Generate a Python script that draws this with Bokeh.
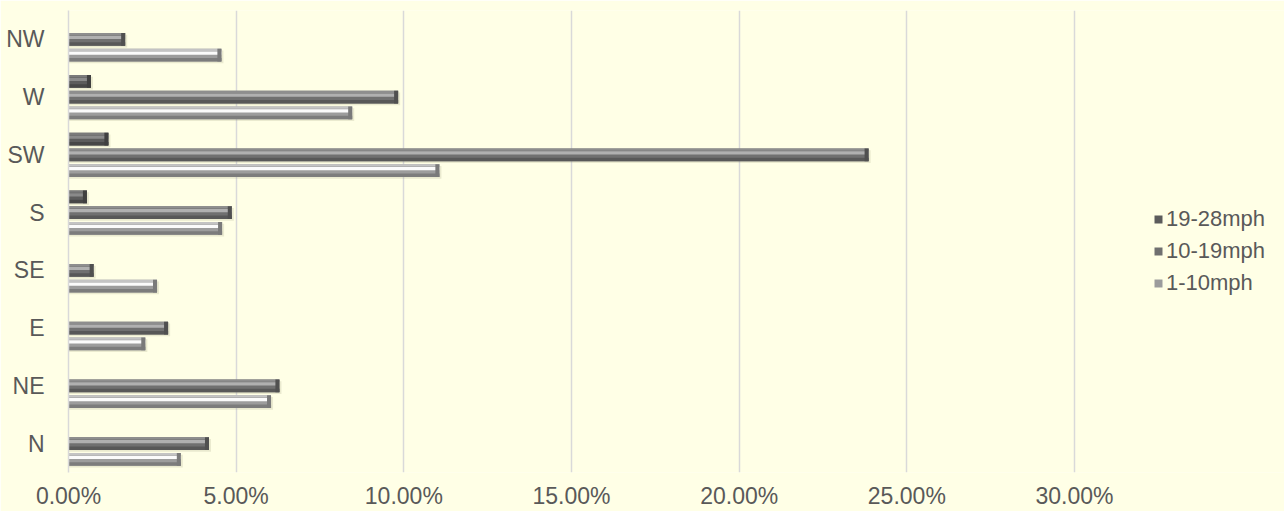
from bokeh.plotting import figure
from bokeh.models import ColumnDataSource, FactorRange, FixedTicker, NumeralTickFormatter, Legend, LegendItem
from bokeh.transform import dodge
from bokeh.embed import file_html
from bokeh.resources import INLINE

directions = ["N", "NE", "E", "SE", "S", "SW", "W", "NW"]
speed_1_10 = [0.0335, 0.0604, 0.0229, 0.0264, 0.0458, 0.1106, 0.0846, 0.0456]
speed_10_19 = [0.0419, 0.0629, 0.0297, 0.0075, 0.0487, 0.2386, 0.0983, 0.0169]
speed_19_28 = [0.0, 0.0, 0.0, 0.0, 0.0055, 0.0119, 0.0067, 0.0]
series_names = ["1-10mph", "10-19mph", "19-28mph"]
x_ticks = [0.0, 0.05, 0.10, 0.15, 0.20, 0.25, 0.30]

BG = "#FFFFE6"
TXT = "#595959"
FONT = "Liberation Sans"

# frame spans to the right edge so the legend can sit inside it; 30% lands at ~x=1074
X_END = 0.30 * 1216 / 1006

p = figure(width=1284, height=511, y_range=FactorRange(*directions), x_range=(0, X_END),
           output_backend="svg", toolbar_location=None,
           min_border_left=68, min_border_right=0, min_border_top=10, min_border_bottom=0)
p.background_fill_color = BG
p.border_fill_color = BG
p.outline_line_color = None

edge_w = 0.0012
data = dict(dir=directions)
for key, vals in (("a", speed_1_10), ("b", speed_10_19), ("c", speed_19_28)):
    data[key] = vals
    data[key + "_edge"] = [max(v - edge_w, 0) if v > 0 else 0 for v in vals]
    data[key + "_sh"] = [v + 0.0006 if v > 0 else 0 for v in vals]
src = ColumnDataSource(data)

step = 0.273
h = 0.22
styles = {
    "a": dict(off=-step, body="#9c9c9c", hi="#fbfbfb", top="#c4c4c4", bot="#7c7c7c", end="#7a7a7a"),
    "b": dict(off=0.0, body="#707070", hi="#b0b0b0", top="#8e8e8e", bot="#585858", end="#505050"),
    "c": dict(off=step, body="#5c5c5c", hi="#8a8a8a", top="#7a7a7a", bot="#474747", end="#404040"),
}

renderers = {}
for key, st in styles.items():
    o = st["off"]
    rng = p.y_range
    p.hbar(y=dodge("dir", o - 0.03, range=rng), left=0, right=key + "_sh", height=h,
           source=src, fill_color="#8c8c6c", fill_alpha=0.18, line_color=None)
    body = p.hbar(y=dodge("dir", o, range=rng), left=0, right=key, height=h,
                  source=src, fill_color=st["body"], line_color=None)
    renderers[key] = body
    p.hbar(y=dodge("dir", o - h * 0.36, range=rng), left=0, right=key, height=h * 0.28,
           source=src, fill_color=st["bot"], line_color=None)
    p.hbar(y=dodge("dir", o + h * 0.16, range=rng), left=0, right=key, height=h * 0.26,
           source=src, fill_color=st["hi"], line_color=None)
    p.hbar(y=dodge("dir", o + h * 0.41, range=rng), left=0, right=key, height=h * 0.18,
           source=src, fill_color=st["top"], line_color=None)
    p.hbar(y=dodge("dir", o, range=rng), left=key + "_edge", right=key, height=h,
           source=src, fill_color=st["end"], line_color=None)

# axes
p.xaxis.ticker = FixedTicker(ticks=x_ticks)
p.xaxis.formatter = NumeralTickFormatter(format="0.00%")
p.xaxis.axis_line_color = None
p.xaxis.major_tick_line_color = None
p.xaxis.minor_tick_line_color = None
p.xaxis.major_tick_out = 0
p.xaxis.major_tick_in = 0
p.xaxis.minor_tick_out = 0
p.xaxis.minor_tick_in = 0
p.xaxis.major_label_standoff = 10
p.yaxis.axis_line_color = "#d9d9d9"
p.yaxis.axis_line_width = 1.5
p.yaxis.major_tick_line_color = None
p.yaxis.minor_tick_line_color = None
p.yaxis.major_label_standoff = 18
for ax in (p.xaxis[0], p.yaxis[0]):
    ax.major_label_text_font = FONT
    ax.major_label_text_font_size = "23px"
    ax.major_label_text_color = TXT

p.ygrid.grid_line_color = None
p.xgrid.ticker = FixedTicker(ticks=x_ticks)
p.xgrid.grid_line_color = "#d9d9d9"
p.xgrid.grid_line_width = 1.5

legend = Legend(items=[
    LegendItem(label=series_names[2], renderers=[renderers["c"]]),
    LegendItem(label=series_names[1], renderers=[renderers["b"]]),
    LegendItem(label=series_names[0], renderers=[renderers["a"]]),
], location=(1085, 176))
legend.background_fill_alpha = 0
legend.border_line_color = None
legend.padding = 0
legend.margin = 0
legend.spacing = 6
legend.glyph_width = 10
legend.glyph_height = 10
legend.label_height = 22
legend.label_standoff = 3
legend.label_text_font = FONT
legend.label_text_font_size = "22px"
legend.label_text_color = TXT
p.add_layout(legend, "center")

open("out.html", "w").write(file_html(p, INLINE))
